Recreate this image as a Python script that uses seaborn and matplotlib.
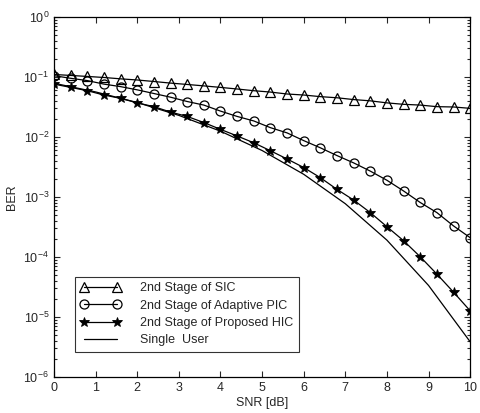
import numpy as np
import pandas as pd
import matplotlib
matplotlib.use("Agg")
import matplotlib.pyplot as plt
import matplotlib.ticker as mticker
import seaborn as sns

# SNR grid used for the marked curves (0.4 dB step)
snr = [0.0, 0.4, 0.8, 1.2, 1.6, 2.0, 2.4, 2.8, 3.2, 3.6, 4.0, 4.4, 4.8,
       5.2, 5.6, 6.0, 6.4, 6.8, 7.2, 7.6, 8.0, 8.4, 8.8, 9.2, 9.6, 10.0]

ber_sic = [0.110, 0.106, 0.102, 0.098, 0.093, 0.089, 0.084, 0.079, 0.075,
           0.071, 0.067, 0.063, 0.059, 0.056, 0.052, 0.050, 0.047, 0.045,
           0.042, 0.040, 0.037, 0.035, 0.034, 0.032, 0.0316, 0.030]

ber_pic = [0.105, 0.095, 0.087, 0.076, 0.069, 0.061, 0.053, 0.046, 0.039,
           0.034, 0.027, 0.022, 0.0185, 0.0143, 0.0117, 0.0087, 0.0066,
           0.0049, 0.0037, 0.0027, 0.0019, 0.00126, 0.00081, 0.00055,
           0.00033, 0.00021]

ber_hic = [0.076, 0.067, 0.059, 0.050, 0.044, 0.037, 0.032, 0.026, 0.022,
           0.0174, 0.0134, 0.0104, 0.0080, 0.0059, 0.0043, 0.0031, 0.0021,
           0.00134, 0.00089, 0.00055, 0.00032, 0.000187, 0.000101, 5.2e-5,
           2.6e-5, 1.27e-5]

# single user curve, 1 dB step
snr_su = [0, 1, 2, 3, 4, 5, 6, 7, 8, 9, 10]
ber_su = [0.0786, 0.0563, 0.0375, 0.0229, 0.0125, 0.00595, 0.00239,
          0.000773, 0.000191, 3.36e-5, 3.87e-6]

sns.set_style("ticks")
plt.rcParams["font.family"] = ["Liberation Sans", "DejaVu Sans"]
plt.rcParams["mathtext.fontset"] = "custom"
plt.rcParams["mathtext.rm"] = "Liberation Sans"

fig = plt.figure(figsize=(4.8, 4.13), dpi=100)
ax = fig.add_axes([0.1125, 0.087, 0.867, 0.872])

sns.lineplot(x=snr, y=ber_sic, ax=ax, color="k", lw=0.9, marker="^",
             markersize=6.5, mfc="none", mec="k", mew=0.9,
             label="2nd Stage of SIC")
sns.lineplot(x=snr, y=ber_pic, ax=ax, color="k", lw=0.9, marker="o",
             markersize=6.5, mfc="none", mec="k", mew=0.9,
             label="2nd Stage of Adaptive PIC")
sns.lineplot(x=snr, y=ber_hic, ax=ax, color="k", lw=0.9, marker="*",
             markersize=7, mfc="k", mec="k", mew=0.6,
             label="2nd Stage of Proposed HIC")
sns.lineplot(x=snr_su, y=ber_su, ax=ax, color="k", lw=0.9,
             label="Single  User")

ax.set_yscale("log")
ax.set_xlim(0, 10)
ax.set_ylim(1e-6, 1)
ax.set_xticks(range(0, 11))
ax.yaxis.set_minor_formatter(mticker.NullFormatter())
ax.set_xlabel("SNR [dB]", fontsize=9, labelpad=2)
ax.set_ylabel("BER", fontsize=9, labelpad=4)
ax.tick_params(which="both", direction="in", top=True, right=True,
               labelsize=9, width=0.8)
ax.tick_params(which="major", length=4)
ax.tick_params(which="minor", length=2)
for s in ax.spines.values():
    s.set_linewidth(0.9)
    s.set_color("k")

leg = ax.legend(loc="lower left", bbox_to_anchor=(0.05, 0.07), fontsize=9,
                numpoints=2, handlelength=3.2, frameon=True, fancybox=False,
                edgecolor="k", borderpad=0.45, labelspacing=0.42,
                handletextpad=1.6, borderaxespad=0)
leg.get_frame().set_linewidth(0.8)

fig.savefig("out.png", dpi=100)
